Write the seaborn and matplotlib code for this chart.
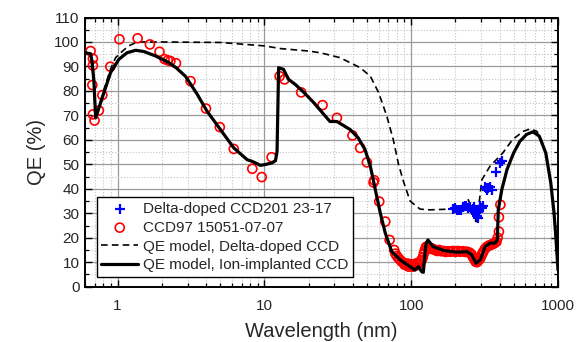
import numpy as np
import pandas as pd
import matplotlib
matplotlib.use("Agg")
import matplotlib.pyplot as plt
from matplotlib.ticker import LogLocator, MultipleLocator, FixedLocator, FixedFormatter, NullFormatter
import seaborn as sns

# === data ===
ion_wl = [0.60, 0.655, 0.67, 0.69, 0.70, 0.71, 0.746, 0.807, 0.896, 1.02, 1.16, 1.33, 1.51,
          1.81, 2.23, 2.5, 2.9, 3.49, 4.07, 5.02, 6.19, 7.63, 8.27, 9.4, 10.1, 11.3, 11.9,
          12.2, 12.5, 13.5, 14.6, 16.2, 18.5, 21.7, 26, 28, 31.2, 38.4, 43.6, 48.5, 52.7,
          57, 61.6, 66.6, 73.8, 84.4, 98.3, 106, 112, 118, 121, 126, 130, 141, 166, 204,
          240, 259, 276, 296, 319, 344, 372, 386, 392, 414, 449, 498, 550, 610, 675, 746,
          826, 893, 940, 970, 1000]
ion_qe = [95.6, 95.2, 92, 84, 75.8, 69, 73, 79.3, 87.5, 92.9, 95.6, 96.6, 96.1,
          94.3, 91.6, 89.5, 86, 78.6, 71.7, 64.2, 56.7, 51.9, 51.2, 49.6, 49.9, 50.6, 51.5,
          55.3, 89.5, 88.8, 84.7, 82.7, 79.5, 75.2, 69.7, 67.5, 67.5, 64.2, 60.8, 56, 49.2,
          39.6, 30.1, 21.9, 14.3, 10.9, 8.2, 6.8, 8.2, 6.1, 5.9, 17.5, 19.1, 16.4, 14.8, 14.1,
          14.3, 13, 9.6, 11, 16.4, 17.8, 17.8, 19.1, 31.4, 39.6, 47.8, 54.6, 59.4, 62.2, 63.3, 61.5,
          54.6, 42.4, 30.1, 19.1, 6.8]

delta_wl = [0.60, 0.655, 0.67, 0.69, 0.70, 0.71, 0.746, 0.807, 0.896, 0.97, 1.05, 1.19, 1.36,
            2, 5, 10, 12.9, 20, 24, 32.7, 44.9, 52.7, 60, 68.2, 75.5, 82, 88.6, 98.3, 109,
            115, 134, 185, 230, 245, 262, 276, 290, 303, 344, 420, 490, 580, 650, 718, 780,
            826, 893, 940, 970, 1000]
delta_qe = [95.6, 95.2, 92, 84, 75.8, 69, 73.5, 80.5, 89, 93.6, 95.6, 98.4, 100,
            100, 99.8, 98.4, 97.3, 96.3, 95.6, 93.6, 89.5, 86, 79.3, 69.7, 60.1, 50, 43, 35, 32.8,
            31.7, 31.4, 31.7, 33, 35.5, 31, 26.6, 34, 43.7, 49.2, 54.6, 60.1, 63.5, 64.5, 63.5, 59,
            54.6, 42.4, 30.1, 19.1, 6.8]

ccd97_wl = [0.655, 0.679, 0.679, 0.673, 0.679, 0.697, 0.746, 0.787, 0.892, 1.03, 1.37, 1.66,
            1.93, 2.09, 2.2, 2.29, 2.5, 3.14, 4.0, 4.97, 6.19, 8.27, 9.6, 11.2, 12.7, 13.7,
            17.8, 24.9, 31.2, 39.8, 44.9, 49.9, 55.4, 56, 60.6, 66.6, 71.3, 76.6,
            78, 80, 82, 84, 86, 88.6, 90, 92, 94, 96, 98, 100, 102, 104, 106, 108, 110, 112,
            114, 116, 118, 120, 122, 124, 126, 128, 131, 134, 138, 142, 146, 150, 155, 160,
            166, 172, 178, 185, 192, 200, 208, 216, 225, 233, 240, 248, 254, 259, 264, 270,
            275, 280, 285, 290, 295, 300, 305, 310, 318, 326, 336, 345, 354, 363, 372, 381,
            388, 396, 396, 405]
ccd97_qe = [96.3, 93.2, 90.4, 82.4, 70.4, 67.9, 72, 78.3, 89.9, 101.1, 101.5, 99,
            96, 93, 92.5, 92.2, 91.3, 84, 72.8, 65.2, 56.3, 48.2, 44.8, 52.9, 86, 84.7,
            79.4, 74.2, 69, 61.8, 56.7, 50.8, 42.6, 43.5, 34.8, 26.6, 19.1, 15,
            13.5, 12.5, 11.6, 11, 10.3, 9.8, 9, 8.8, 9.5, 8.2, 8.8, 9.2, 8.2, 9, 8.5, 9.5, 8.9, 9.8,
            9.5, 10.5, 10.9, 12, 13.5, 15, 16.2, 16.4, 16, 15.5, 15.7, 15.2, 15, 14.6, 15, 14.5,
            14.6, 14.2, 14.5, 14.3, 14.6, 14.2, 14.6, 14.3, 14.5, 14.2, 14.3, 14, 13.6, 13, 12, 11,
            10.2, 10, 10.5, 11, 11.5, 12.5, 13.5, 14.3, 15.5, 16.2, 16.7, 17, 17.3, 17.5, 18, 18.4,
            20, 22.5, 28.4, 33.5]

ccd201_wl = [194, 199, 205, 212, 220, 226, 232, 238, 245, 253, 258, 264, 268, 273, 276, 280,
             284, 290, 296, 302, 308, 319, 323, 330, 336, 345, 353, 381, 401, 417]
ccd201_qe = [31.7, 32.1, 31.5, 31.4, 31.4, 32.5, 32.8, 33, 32, 32.5, 31.5, 31.7, 32.5, 30.7, 30, 29,
             28, 31, 32.8, 32.2, 32.9, 40.7, 40.3, 39.5, 40.3, 40.8, 39.6, 46.7, 50.6, 51.5]

# === style ===
sns.set_theme(style="ticks")
plt.rcParams["font.family"] = ["Liberation Sans", "DejaVu Sans"]
plt.rcParams["xtick.direction"] = "in"
plt.rcParams["ytick.direction"] = "in"

fig = plt.figure(figsize=(5.76, 3.42), dpi=100)
ax = fig.add_axes([85 / 576, 1 - 286.7 / 342, 473 / 576, 269.2 / 342])

sns.lineplot(x=delta_wl, y=delta_qe, ax=ax, color="black", lw=1.2, ls=(0, (4, 2.5)),
             estimator=None, sort=False, label="QE model, Delta-doped CCD")
sns.scatterplot(x=ccd97_wl, y=ccd97_qe, ax=ax, marker="o", s=42, fc="none", ec="red",
                linewidth=1.2, label="CCD97 15051-07-07", zorder=3)
sns.lineplot(x=ion_wl, y=ion_qe, ax=ax, color="black", lw=2.3,
             estimator=None, sort=False, label="QE model, Ion-implanted CCD", zorder=4)
sns.scatterplot(x=ccd201_wl, y=ccd201_qe, ax=ax, marker="+", s=60, color="blue",
                linewidth=1.6, label="Delta-doped CCD201 23-17", zorder=5)

ax.set_xscale("log")
ax.set_xlim(0.6, 1000)
ax.set_ylim(0, 110)
ax.xaxis.set_major_locator(FixedLocator([1, 10, 100, 1000]))
ax.xaxis.set_major_formatter(FixedFormatter(["1", "10", "100", "1000"]))
ax.xaxis.set_minor_locator(LogLocator(base=10, subs=np.arange(2, 10)))
ax.xaxis.set_minor_formatter(NullFormatter())
ax.yaxis.set_major_locator(MultipleLocator(10))
ax.yaxis.set_minor_locator(MultipleLocator(5))

ax.grid(which="major", color="#9a9a9a", lw=0.9, ls="-")
ax.grid(which="minor", color="#c4c4c4", lw=0.8, ls=":")
ax.set_axisbelow(True)

ax.tick_params(which="both", top=True, right=True, direction="in", labelsize=11, color="black")
ax.tick_params(which="major", length=5, width=1.0)
ax.tick_params(which="minor", length=3, width=0.9)
ax.tick_params(axis="x", which="major", pad=9)
ax.tick_params(axis="y", which="major", pad=4)
for s in ax.spines.values():
    s.set_color("black")
    s.set_linewidth(1.4)

ax.set_xlabel("Wavelength (nm)", fontsize=14.5, labelpad=6)
ax.set_ylabel("QE (%)", fontsize=14.5, labelpad=6)

# legend in reference order
h, l = ax.get_legend_handles_labels()
order = ["Delta-doped CCD201 23-17", "CCD97 15051-07-07",
         "QE model, Delta-doped CCD", "QE model, Ion-implanted CCD"]
hm = dict(zip(l, h))
leg = ax.legend([hm[k] for k in order], order, loc="lower left",
                bbox_to_anchor=(0.025, 0.036), borderaxespad=0, fontsize=11,
                frameon=True, fancybox=False, framealpha=1, edgecolor="black",
                handlelength=2.4, handletextpad=0.3, labelspacing=0.32, borderpad=0.3)
leg.get_frame().set_linewidth(1.0)

plt.savefig("out.png", dpi=100)
